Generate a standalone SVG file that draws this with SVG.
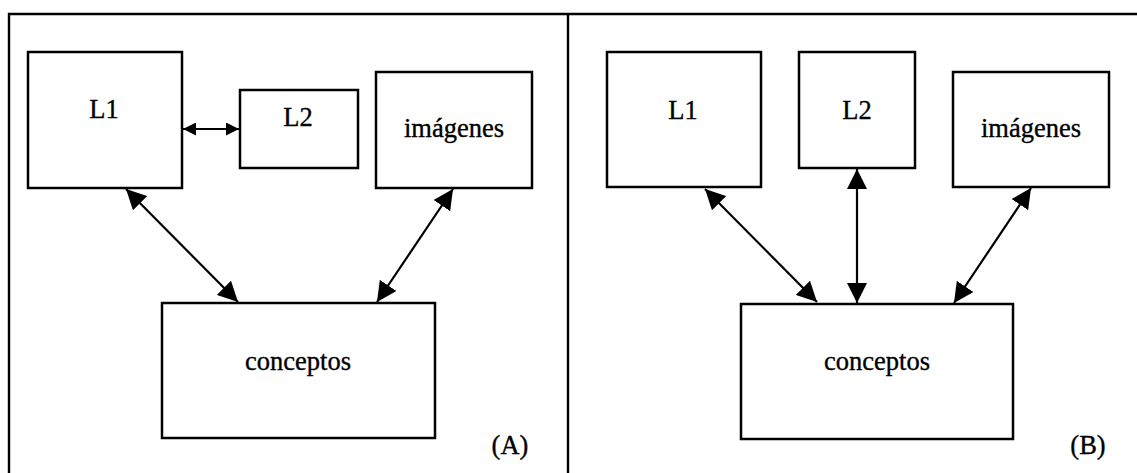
<svg xmlns="http://www.w3.org/2000/svg" width="1137" height="473" viewBox="0 0 1137 473">
  <style>
    .frame { fill: none; stroke: #000; stroke-width: 2.4; }
    .box { fill: #fff; stroke: #000; stroke-width: 2.5; }
    .link { fill: none; stroke: #000; stroke-width: 2.2; }
    .big { marker-start: url(#head); marker-end: url(#head); }
    .small { marker-start: url(#headSmall); marker-end: url(#headSmall); }
    text { font-family: "Liberation Serif", "Times New Roman", serif; font-size: 26.5px; fill: #000; stroke: #000; stroke-width: 0.35; text-anchor: middle; }
  </style>
  <defs>
    <marker id="head" markerUnits="userSpaceOnUse" viewBox="0 0 20 20" markerWidth="20" markerHeight="20" refX="20" refY="10" orient="auto-start-reverse">
      <path d="M0,0 L20,10 L0,20 Z" fill="#000"/>
    </marker>
    <marker id="headSmall" markerUnits="userSpaceOnUse" viewBox="0 0 13 13" markerWidth="13" markerHeight="13" refX="13" refY="6.5" orient="auto-start-reverse">
      <path d="M0,0 L13,6.5 L0,13 Z" fill="#000"/>
    </marker>
  </defs>

  <rect width="1137" height="473" fill="#fff"/>

  <!-- outer frame and panel divider -->
  <g id="frame">
    <path class="frame" d="M9,473 V14 H1137"/>
    <path class="frame" d="M568,14 V473"/>
  </g>

  <!-- panel A -->
  <g id="a-l1">
    <rect class="box" x="28" y="52" width="154" height="136"/>
    <text x="104" y="118">L1</text>
  </g>
  <g id="a-l2">
    <rect class="box" x="240" y="90" width="118" height="78"/>
    <text x="298" y="126">L2</text>
  </g>
  <g id="a-imagenes">
    <rect class="box" x="376" y="72" width="156" height="116"/>
    <text x="454" y="137">imágenes</text>
  </g>
  <g id="a-conceptos">
    <rect class="box" x="162" y="303" width="273" height="135"/>
    <text x="298" y="370">conceptos</text>
  </g>
  <text id="a-label" x="510" y="454">(A)</text>

  <!-- panel B -->
  <g id="b-l1">
    <rect class="box" x="607" y="52" width="154" height="135"/>
    <text x="683" y="119">L1</text>
  </g>
  <g id="b-l2">
    <rect class="box" x="799" y="52" width="116" height="116"/>
    <text x="857" y="119">L2</text>
  </g>
  <g id="b-imagenes">
    <rect class="box" x="953" y="72" width="156" height="115"/>
    <text x="1031" y="137">imágenes</text>
  </g>
  <g id="b-conceptos">
    <rect class="box" x="741" y="304" width="272" height="135"/>
    <text x="877" y="370">conceptos</text>
  </g>
  <text id="b-label" x="1088" y="454">(B)</text>

  <!-- connectors -->
  <g id="connectors">
    <path class="link small" d="M183,129 H239"/>
    <path class="link big" d="M126,189 L238,302"/>
    <path class="link big" d="M453,189 L377,302"/>
    <path class="link big" d="M705,189 L817,302"/>
    <path class="link big" d="M857,169 V303"/>
    <path class="link big" d="M1031,188 L954,303"/>
  </g>
</svg>
